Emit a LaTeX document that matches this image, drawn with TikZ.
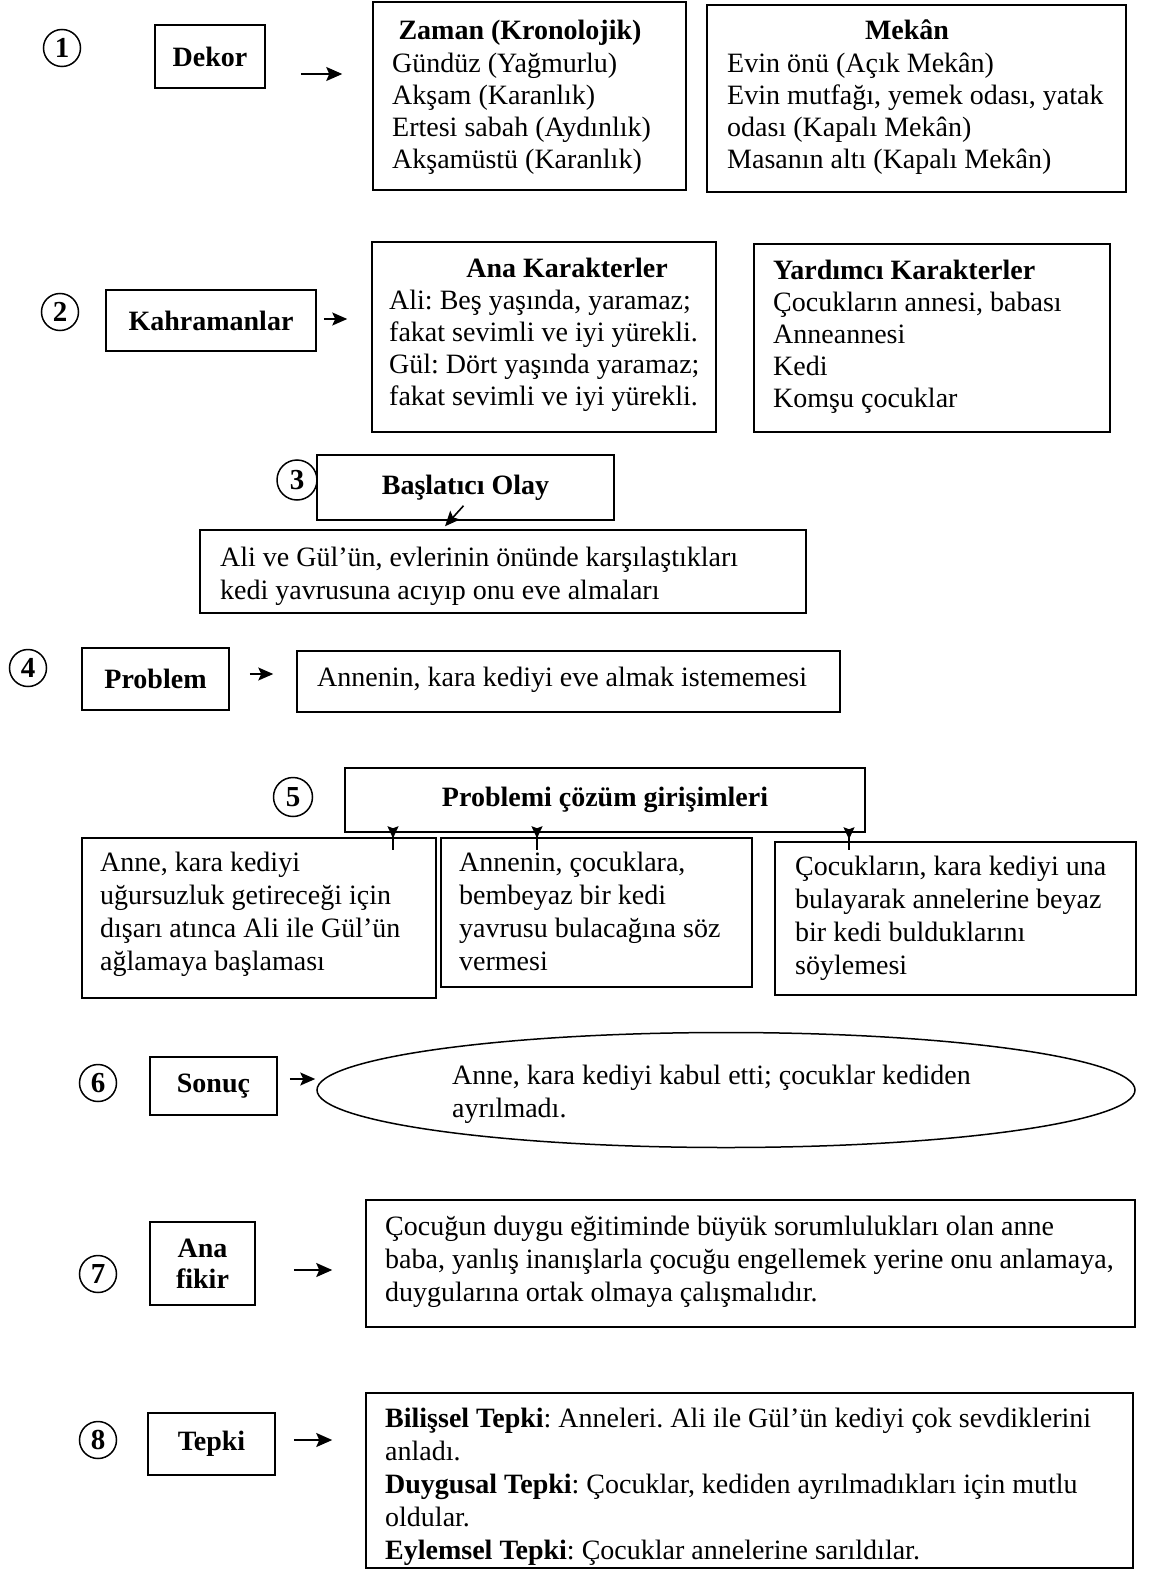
\documentclass[tikz,border=0pt]{standalone}
\usepackage{fontspec}
\setmainfont{Liberation Serif}
\usetikzlibrary{arrows.meta,shapes.geometric}
\frenchspacing
\begin{document}
\begin{tikzpicture}[x=1pt,y=-1pt,
  box/.style={draw, rectangle, line width=1.5pt, inner sep=0pt},
  tag/.style={box, font=\fontsize{28}{31}\selectfont\bfseries, align=center},
  num/.style={draw, circle, line width=1.5pt, minimum size=37pt, inner sep=0pt,
              font=\fontsize{29}{29}\selectfont\bfseries},
  body/.style={anchor=north west, inner sep=0pt, align=left,
               font=\fontsize{28}{33}\selectfont},
  tbody/.style={body, font=\fontsize{28}{32}\selectfont},
  head/.style={anchor=base, inner sep=0pt, font=\fontsize{28}{32}\selectfont\bfseries},
  arr/.style={line width=1.6pt, -{Stealth[length=16pt,width=14pt,inset=3pt]}},
  sarr/.style={line width=1.6pt, -{Stealth[length=15pt,width=13pt,inset=3pt]}},
  darr/.style={line width=1.6pt, -{Stealth[length=12pt,width=11pt,inset=2pt]}},
]
\useasboundingbox (0,0) rectangle (1150,1570);

% ---------- 1: Dekor ----------
\node[num] (n1) at (62,48) {1};
\node[tag, minimum width=110pt, minimum height=63pt] (dekor) at (210,56.5) {Dekor};
\node[box, minimum width=313pt, minimum height=188pt] (zaman) at (529.5,96) {};
\node[head] (zamanh) at (520,40) {Zaman (Kronolojik)};
\node[tbody] (zamant) at (392,49.6) {\strut Gündüz (Yağmurlu)\\Akşam (Karanlık)\\Ertesi sabah (Aydınlık)\\Akşamüstü (Karanlık)};
\node[box, minimum width=419pt, minimum height=187pt] (mekan) at (916.5,98.5) {};
\node[head] (mekanh) at (907,40) {Mekân};
\node[tbody] (mekant) at (727,49.6) {\strut Evin önü (Açık Mekân)\\Evin mutfağı, yemek odası, yatak\\odası (Kapalı Mekân)\\Masanın altı (Kapalı Mekân)};
\coordinate (r1) at (0,74);
\draw[arr, shorten <=35pt, shorten >=30pt] (dekor.east |- r1) -- (zaman.west |- r1);

% ---------- 2: Kahramanlar ----------
\node[num] (n2) at (60,312) {2};
\node[tag, minimum width=210pt, minimum height=61pt] (kah) at (211,320.5) {Kahramanlar};
\node[box, minimum width=344pt, minimum height=190pt] (anak) at (544,337) {};
\node[head] (anakh) at (567,277) {Ana Karakterler};
\node[tbody] (anakt) at (389,286.6) {\strut Ali: Beş yaşında, yaramaz;\\fakat sevimli ve iyi yürekli.\\Gül: Dört yaşında yaramaz;\\fakat sevimli ve iyi yürekli.};
\node[box, minimum width=356pt, minimum height=188pt] (yard) at (932,338) {};
\node[tbody] (yardt) at (773,256.6) {\strut\textbf{Yardımcı Karakterler}\\Çocukların annesi, babası\\Anneannesi\\Kedi\\Komşu çocuklar};
\coordinate (r2) at (0,319);
\draw[sarr, shorten <=7pt, shorten >=24pt] (kah.east |- r2) -- (anak.west |- r2);

% ---------- 3: Başlatıcı Olay ----------
\node[num, minimum size=40pt] (n3) at (297,480) {3};
\node[tag, minimum width=297pt, minimum height=65pt] (basl) at (465.5,487.5) {Başlatıcı Olay};
\node[box, minimum width=606pt, minimum height=83pt] (ali) at (503,571.5) {};
\node[body] (alit) at (220,543.4) {\strut Ali ve Gül’ün, evlerinin önünde karşılaştıkları\\kedi yavrusuna acıyıp onu eve almaları};
\draw[sarr] ([shift={(-2,-15)}]basl.south) -- ([shift={(-58,-3)}]ali.north);

% ---------- 4: Problem ----------
\node[num] (n4) at (28,668) {4};
\node[tag, minimum width=147pt, minimum height=62pt] (prob) at (155.5,679) {Problem};
\node[box, minimum width=543pt, minimum height=61pt] (ann) at (568.5,681.5) {};
\node[body] (annt) at (317,663.4) {\strut Annenin, kara kediyi eve almak istememesi};
\coordinate (r4) at (0,674);
\draw[sarr, shorten <=20pt, shorten >=23pt] (prob.east |- r4) -- (ann.west |- r4);

% ---------- 5: Problemi çözüm girişimleri ----------
\node[num, minimum size=39pt] (n5) at (293,797) {5};
\node[tag, minimum width=520pt, minimum height=64pt] (pc) at (605,800) {Problemi çözüm girişimleri};
\node[box, minimum width=354pt, minimum height=160pt] (sa) at (259,918) {};
\node[body] (sat) at (100,848.4) {\strut Anne, kara kediyi\\uğursuzluk getireceği için\\dışarı atınca Ali ile Gül’ün\\ağlamaya başlaması};
\node[box, minimum width=311pt, minimum height=149pt] (sb) at (596.5,912.5) {};
\node[body] (sbt) at (459,848.4) {\strut Annenin, çocuklara,\\bembeyaz bir kedi\\yavrusu bulacağına söz\\vermesi};
\node[box, minimum width=361pt, minimum height=153pt] (sc) at (955.5,918.5) {};
\node[body] (sct) at (795,852.4) {\strut Çocukların, kara kediyi una\\bulayarak annelerine beyaz\\bir kedi bulduklarını\\söylemesi};
\coordinate (x1) at (393,0);
\coordinate (x2) at (537,0);
\coordinate (x3) at (849,0);
\draw[darr, shorten <=-17pt, shorten >=-1pt] (pc.south -| x1) -- (sa.north -| x1);
\draw[darr, shorten <=-17pt, shorten >=-1pt] (pc.south -| x2) -- (sb.north -| x2);
\draw[darr, shorten <=-17pt, shorten >=2pt] (pc.south -| x3) -- (sc.north -| x3);

% ---------- 6: Sonuç ----------
\node[num] (n6) at (98,1083) {6};
\node[tag, minimum width=127pt, minimum height=58pt] (son) at (213.5,1086) {Sonuç};
\node[draw, ellipse, line width=1.5pt, minimum width=818pt, minimum height=115pt, inner sep=0pt] (ell) at (726,1090) {};
\node[body] (ellt) at (452,1061.4) {\strut Anne, kara kediyi kabul etti; çocuklar kediden\\ayrılmadı.};
\coordinate (r6) at (0,1079);
\draw[sarr, shorten <=12pt, shorten >=1pt] (son.east |- r6) -- (ell.west |- r6);

% ---------- 7: Ana fikir ----------
\node[num] (n7) at (98,1274) {7};
\node[tag, minimum width=105pt, minimum height=83pt] (af) at (202.5,1263.5) {Ana\\fikir};
\node[box, minimum width=769pt, minimum height=127pt] (b7) at (750.5,1263.5) {};
\node[body] (b7t) at (385,1212.4) {\strut Çocuğun duygu eğitiminde büyük sorumlulukları olan anne\\baba, yanlış inanışlarla çocuğu engellemek yerine onu anlamaya,\\duygularına ortak olmaya çalışmalıdır.};
\coordinate (r7) at (0,1270);
\draw[arr, shorten <=38pt, shorten >=33pt] (af.east |- r7) -- (b7.west |- r7);

% ---------- 8: Tepki ----------
\node[num] (n8) at (98,1440) {8};
\node[tag, minimum width=127pt, minimum height=62pt] (tep) at (211.5,1444) {Tepki};
\node[box, minimum width=767pt, minimum height=175pt] (b8) at (749.5,1480.5) {};
\node[body] (b8t) at (385,1404.4) {\strut\textbf{Bilişsel Tepki}: Anneleri. Ali ile Gül’ün kediyi çok sevdiklerini\\anladı.\\\textbf{Duygusal Tepki}: Çocuklar, kediden ayrılmadıkları için mutlu\\oldular.\\\textbf{Eylemsel Tepki}: Çocuklar annelerine sarıldılar.};
\coordinate (r8) at (0,1440);
\draw[arr, shorten <=18pt, shorten >=33pt] (tep.east |- r8) -- (b8.west |- r8);
\end{tikzpicture}
\end{document}
